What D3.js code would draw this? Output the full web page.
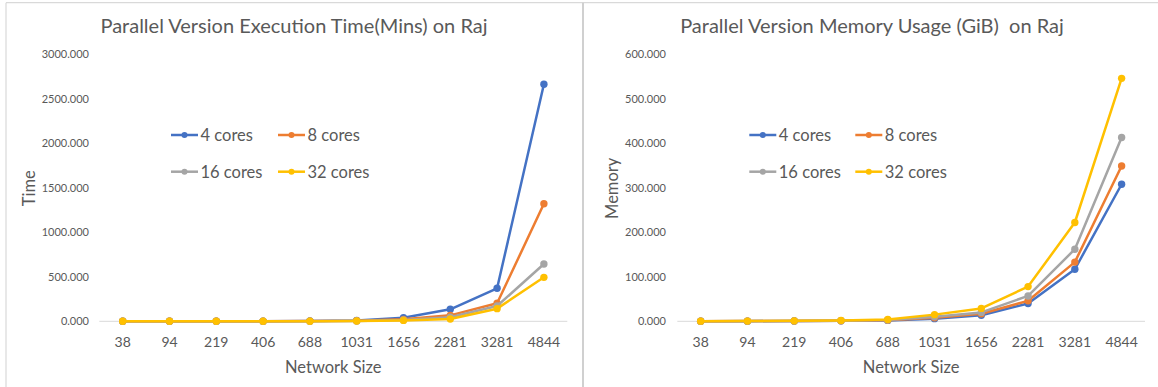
<!DOCTYPE html>
<html>
<head>
<meta charset="utf-8">
<script src="https://cdn.jsdelivr.net/npm/d3@7"></script>
<style>
  html, body { margin: 0; padding: 0; background: #fff; }
  svg { display: block; font-family: Lato, "Open Sans", sans-serif; }
</style>
</head>
<body>
<svg id="chart" width="1158" height="387"></svg>
<script>
// Network sizes (x categories)
const networkSizes = ["38", "94", "219", "406", "688", "1031", "1656", "2281", "3281", "4844"];
const seriesNames = ["4 cores", "8 cores", "16 cores", "32 cores"];
const seriesColors = ["#4472C4", "#ED7D31", "#A5A5A5", "#FFC000"];

// Execution time in minutes
const time4 = [0.2, 0.3, 0.5, 1, 3, 10, 40, 135, 371, 2663];
const time8 = [0.1, 0.2, 0.4, 0.8, 2, 6, 22, 67, 202, 1320];
const time16 = [0.1, 0.2, 0.3, 0.6, 1.5, 4, 15, 45, 172, 644];
const time32 = [0.1, 0.2, 0.3, 0.5, 1.2, 3, 10, 26, 142, 494];

// Memory usage in GiB
const mem4 = [0.2, 0.3, 0.6, 1, 2, 6, 13.5, 40, 117, 308];
const mem8 = [0.2, 0.4, 0.7, 1.2, 2.5, 8, 17, 46, 133, 349];
const mem16 = [0.3, 0.5, 0.8, 1.5, 3, 10, 20, 57, 162, 413];
const mem32 = [0.3, 0.5, 1, 2, 4, 15, 29, 78, 222, 546];

const timeTicks = [0, 500, 1000, 1500, 2000, 2500, 3000];
const memTicks = [0, 100, 200, 300, 400, 500, 600];

const svg = d3.select("#chart");
const textColor = "#595959";

// panel frame lines
svg.append("line").attr("x1", 6).attr("x2", 1158).attr("y1", 2.7).attr("y2", 2.7)
  .attr("stroke", "#d9d9d9").attr("stroke-width", 1.2);
svg.append("line").attr("x1", 6).attr("x2", 6).attr("y1", 2.7).attr("y2", 387)
  .attr("stroke", "#d9d9d9").attr("stroke-width", 1.2);
svg.append("line").attr("x1", 583).attr("x2", 583).attr("y1", 2.7).attr("y2", 387)
  .attr("stroke", "#d0d0d0").attr("stroke-width", 2);

function drawPanel(cfg) {
  const g = svg.append("g");
  const x = d3.scaleBand().domain(networkSizes).range([cfg.x0, cfg.x1]);
  const y = d3.scaleLinear().domain([0, cfg.max]).range([321.3, 54.3]);
  const cx = v => x(v) + x.bandwidth() / 2;

  // title
  g.append("text")
    .attr("x", cfg.titleX).attr("y", 33.3)
    .attr("text-anchor", "middle")
    .attr("fill", textColor)
    .attr("font-size", 20)
    .style("white-space", "pre")
    .text(cfg.title);

  // y axis labels
  const yAxis = d3.axisLeft(y).tickValues(cfg.ticks).tickSize(0).tickPadding(0)
    .tickFormat(d3.format(".3f"));
  const yg = g.append("g").attr("transform", `translate(${cfg.yLabelX},0)`).call(yAxis);
  yg.select(".domain").remove();
  yg.selectAll("text").attr("font-size", 11).attr("fill", textColor)
    .attr("font-family", "Lato, sans-serif");

  // baseline
  g.append("line")
    .attr("x1", cfg.x0).attr("x2", cfg.x1)
    .attr("y1", y(0)).attr("y2", y(0))
    .attr("stroke", "#d9d9d9").attr("stroke-width", 1);

  // x axis labels
  const xAxis = d3.axisBottom(x).tickSize(0).tickPadding(0);
  const xg = g.append("g").attr("transform", `translate(0,347.3)`).call(xAxis);
  xg.select(".domain").remove();
  xg.selectAll("text").attr("font-size", 14).attr("fill", textColor).attr("dy", 0)
    .attr("font-family", "Lato, sans-serif");

  // axis titles
  g.append("text")
    .attr("x", (cfg.x0 + cfg.x1) / 2).attr("y", 373.3)
    .attr("text-anchor", "middle").attr("fill", textColor).attr("font-size", 16.5)
    .text("Network Size");
  g.append("text")
    .attr("transform", `translate(${cfg.yTitleX},188.3) rotate(-90)`)
    .attr("text-anchor", "middle").attr("dy", "0.35em")
    .attr("fill", textColor).attr("font-size", 16.5)
    .text(cfg.yTitle);

  // series lines and markers
  const line = d3.line()
    .x((d, i) => cx(networkSizes[i]))
    .y(d => y(d));
  cfg.series.forEach((vals, k) => {
    g.append("path").datum(vals)
      .attr("d", line)
      .attr("fill", "none")
      .attr("stroke", seriesColors[k])
      .attr("stroke-width", 2.5)
      .attr("stroke-linejoin", "round");
    g.selectAll(null).data(vals).enter().append("circle")
      .attr("cx", (d, i) => cx(networkSizes[i]))
      .attr("cy", d => y(d))
      .attr("r", 3.7)
      .attr("fill", seriesColors[k]);
  });

  // legend (2 x 2)
  const rows = [135, 171.7];
  seriesNames.forEach((name, k) => {
    const col = k % 2, row = Math.floor(k / 2);
    const lx = cfg.legendX[col];
    const ly = rows[row];
    const lg = g.append("g");
    lg.append("line").attr("x1", lx).attr("x2", lx + 27).attr("y1", ly).attr("y2", ly)
      .attr("stroke", seriesColors[k]).attr("stroke-width", 2.5);
    lg.append("circle").attr("cx", lx + 13.5).attr("cy", ly).attr("r", 3)
      .attr("fill", seriesColors[k]);
    lg.append("text").attr("x", lx + 29.5).attr("y", ly).attr("dy", "0.36em")
      .attr("fill", textColor).attr("font-size", 16.5).text(name);
  });
}

drawPanel({
  title: "Parallel Version Execution Time(Mins) on Raj",
  titleX: 294,
  x0: 99.3, x1: 567.3,
  max: 3000, ticks: timeTicks,
  yLabelX: 89, yTitleX: 28.9, yTitle: "Time",
  series: [time4, time8, time16, time32],
  legendX: [171, 278]
});

drawPanel({
  title: "Parallel Version Memory Usage (GiB)  on Raj",
  titleX: 872,
  x0: 677.3, x1: 1145,
  max: 600, ticks: memTicks,
  yLabelX: 666, yTitleX: 612.4, yTitle: "Memory",
  series: [mem4, mem8, mem16, mem32],
  legendX: [749.3, 855.3]
});
</script>
</body>
</html>
